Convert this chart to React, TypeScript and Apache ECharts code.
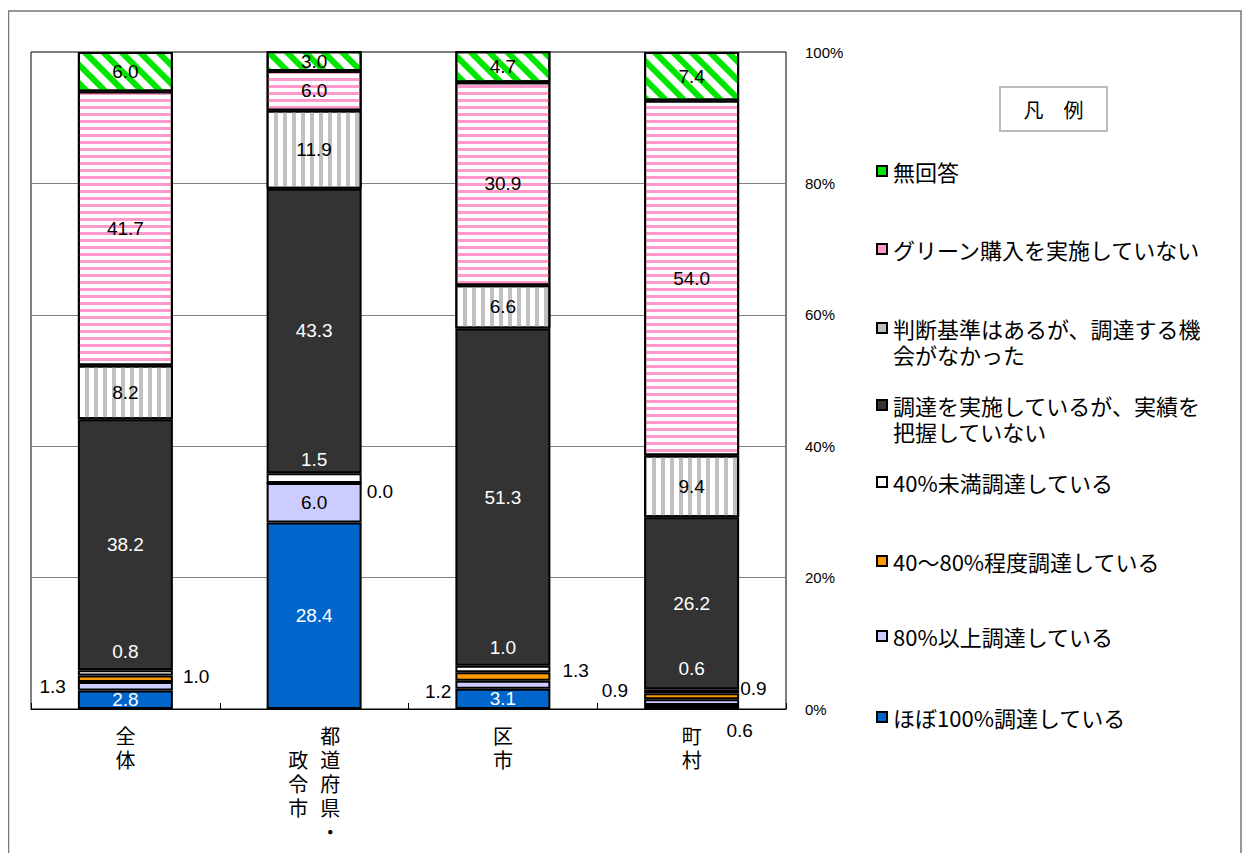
import React, { useEffect, useRef } from 'react';
import * as echarts from 'echarts';

// ---------- data ----------
const categories = ['全体', '都道府県・政令市', '区市', '町村'];

const seriesNames = [
  'ほぼ100%調達している',
  '80%以上調達している',
  '40～80%程度調達している',
  '40%未満調達している',
  '調達を実施しているが、実績を把握していない',
  '判断基準はあるが、調達する機会がなかった',
  'グリーン購入を実施していない',
  '無回答',
];

const nearly100 = [2.8, 28.4, 3.1, 0.6];
const over80 = [1.3, 6.0, 1.2, 0.9];
const mid40to80 = [1.0, 0.0, 1.3, 0.9];
const under40 = [0.8, 1.5, 1.0, 0.6];
const noRecord = [38.2, 43.3, 51.3, 26.2];
const noChance = [8.2, 11.9, 6.6, 9.4];
const notImplemented = [41.7, 6.0, 30.9, 54.0];
const noAnswer = [6.0, 3.0, 4.7, 7.4];

const seriesValues = [nearly100, over80, mid40to80, under40, noRecord, noChance, notImplemented, noAnswer];

// legend order (top to bottom)
const legendOrder = [7, 6, 5, 4, 3, 2, 1, 0];

// ---------- styles ----------
const FONT_JP = '"Noto Sans CJK JP", "Noto Sans", sans-serif';
const FONT_NUM = '"Liberation Sans", Arial, sans-serif';

const solidColors = ['#0066CC', '#CCCCFF', '#FF9900', '#FFFFFF', '#333333', '#C0C0C0', '#FF99CC', '#00E600'];
const labelColors = ['#fff', '#000', '#000', '#fff', '#fff', '#000', '#000', '#000'];

const decals: any[] = [
  null, null, null, null, null,
  { symbol: 'rect', symbolSize: 1, color: '#C0C0C0', dashArrayX: [1, 0], dashArrayY: [4, 5], rotation: Math.PI / 2 },
  { symbol: 'rect', symbolSize: 1, color: '#FF99CC', dashArrayX: [1, 0], dashArrayY: [3, 4], rotation: 0 },
  { symbol: 'rect', symbolSize: 1, color: '#00E600', dashArrayX: [1, 0], dashArrayY: [6, 7], rotation: Math.PI / 4 },
];

// special label placements: [seriesIndex]-[categoryIndex]
const labelPlacement: Record<string, any> = {
  '0-3': { position: 'inside', offset: [48, 23], color: '#000' },
  '1-0': { position: 'left', distance: 12, offset: [0, 0] },
  '1-2': { position: 'left', distance: 4, offset: [0, 7] },
  '1-3': { position: 'left', distance: 16, offset: [0, -12] },
  '2-0': { position: 'right', distance: 10, offset: [0, -2] },
  '2-1': { position: 'right', distance: 4, offset: [0, 9] },
  '2-2': { position: 'right', distance: 12, offset: [0, -6] },
  '2-3': { position: 'right', distance: 1, offset: [0, -8] },
  '3-0': { position: 'inside', offset: [0, -21] },
  '3-1': { position: 'inside', offset: [0, -19] },
  '3-2': { position: 'inside', offset: [0, -21] },
  '3-3': { position: 'inside', offset: [0, -23] },
};

const legendCenters = [163, 241, 320, 397, 474, 553, 628, 709];
const legendLines: Record<string, string> = {
  '判断基準はあるが、調達する機会がなかった': '\n判断基準はあるが、調達する機\n会がなかった',
  '調達を実施しているが、実績を把握していない': '\n調達を実施しているが、実績を\n把握していない',
};

export default function App() {
  const ref = useRef<HTMLDivElement>(null);

  useEffect(() => {
    if (!ref.current) return;
    const chart = echarts.init(ref.current, null, { renderer: 'svg' });

    const series = seriesNames.map((name, si) => ({
      name,
      type: 'bar',
      stack: 'total',
      barWidth: 95,
      itemStyle: {
        color: si >= 5 ? '#FFFFFF' : solidColors[si],
        borderColor: '#000',
        borderWidth: 2,
        decal: decals[si] || undefined,
      },
      label: {
        show: true,
        position: 'inside',
        color: labelColors[si],
        fontSize: 19,
        fontFamily: FONT_NUM,
        formatter: (p: any) => Number(p.value).toFixed(1),
      },
      emphasis: { disabled: true },
      data: seriesValues[si].map((v, ci) => {
        const lp = labelPlacement[`${si}-${ci}`];
        return lp ? { value: v, label: lp } : v;
      }),
    }));

    const LH2 = 26;
    const legends = legendOrder.map((si, li) => {
      const name = seriesNames[si];
      const twoLine = !!legendLines[name];
      return {
        show: true,
        orient: 'vertical',
        left: 868,
        top: legendCenters[li] - (twoLine ? LH2 * 1.5 : 13),
        padding: 0,
        icon: 'rect',
        itemWidth: 10,
        itemHeight: 10,
        selectedMode: false,
        data: [{
          name,
          itemStyle: { color: solidColors[si], borderColor: '#000', borderWidth: 2, decal: 'none' },
        }],
        formatter: (n: string) => legendLines[n] || n,
        textStyle: {
          fontSize: 22,
          color: '#000',
          fontFamily: FONT_JP,
          lineHeight: twoLine ? LH2 : 26,
          padding: [0, 0, 0, 1],
        },
      };
    });

    const option: any = {
      animation: false,
      backgroundColor: '#fff',
      grid: {
        left: 23, top: 44, width: 755, height: 657,
        show: true, borderColor: '#000', borderWidth: 1, backgroundColor: 'transparent',
      },
      legend: legends,
      xAxis: {
        type: 'category',
        data: categories,
        axisLine: { lineStyle: { color: '#000', width: 1 } },
        axisTick: { show: true, inside: true, length: 6, lineStyle: { color: '#000' } },
        axisLabel: {
          interval: 0,
          margin: 14,
          formatter: (v: string) => {
            if (v === '都道府県・政令市') {
              return ['{c|　}{c|都}', '{c|政}{c|道}', '{c|令}{c|府}', '{c|市}{c|県}', '{c|　}{c|・}'].join('\n');
            }
            return v.split('').map((ch) => `{c|${ch}}`).join('\n');
          },
          rich: {
            c: { fontSize: 20, lineHeight: 24, width: 32, align: 'center', fontFamily: FONT_JP, color: '#000' },
          },
        },
      },
      yAxis: {
        type: 'value',
        position: 'right',
        min: 0,
        max: 100,
        interval: 20,
        axisLine: { show: false },
        axisTick: { show: false },
        axisLabel: { formatter: '{value}%', margin: 19, color: '#000', fontSize: 15, fontFamily: FONT_NUM },
        splitLine: { show: true, showMinLine: false, showMaxLine: false, lineStyle: { color: '#808080', width: 1 } },
      },
      graphic: [
        { type: 'rect', silent: true, z: -1, shape: { x: 0.5, y: 3, width: 1232.5, height: 900 }, style: { fill: 'none', stroke: '#777', lineWidth: 1.5 } },
        { type: 'rect', silent: true, shape: { x: 992, y: 79, width: 107, height: 44 }, style: { fill: '#fff', stroke: '#BBBBBB', lineWidth: 2 } },
        { type: 'text', silent: true, x: 1045.5, y: 101, style: { text: '凡　例', font: `20px ${FONT_JP}`, fill: '#000', align: 'center', verticalAlign: 'middle' } },
      ],
      series,
    };

    chart.setOption(option);
    return () => chart.dispose();
  }, []);

  return <div ref={ref} style={{ position: 'absolute', left: 8, top: 8, width: 1234, height: 845 }} />;
}
